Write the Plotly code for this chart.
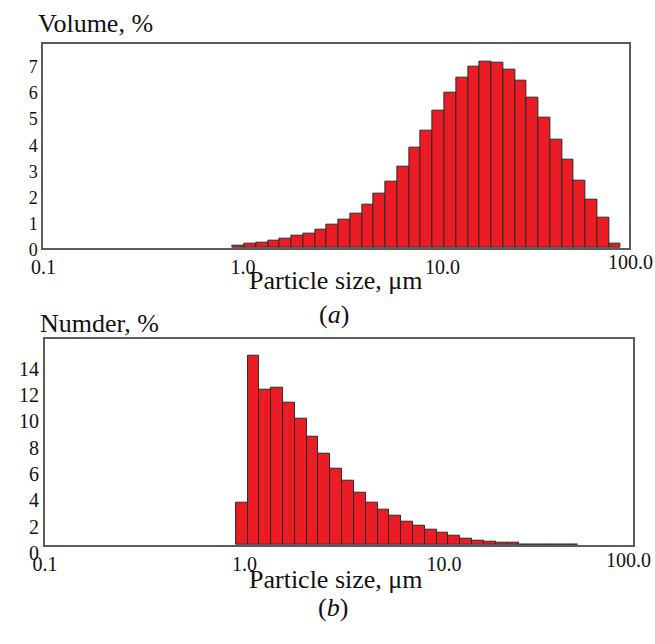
import numpy as np
import plotly.graph_objects as go

# ---------------- data ----------------
size_tick_values = [0.1, 1.0, 10.0]
size_tick_labels = ["0.1", "1.0", "10.0"]
size_last_label = "100.0"

# (a) volume distribution: bin edges in micrometres and volume %
volume_bin_edges_um = [0.889, 1.018, 1.166, 1.336, 1.530, 1.752, 2.007, 2.299,
                       2.633, 3.016, 3.454, 3.956, 4.532, 5.190, 5.944, 6.808,
                       7.798, 8.931, 10.23, 11.72, 13.42, 15.37, 17.61, 20.16,
                       23.10, 26.45, 30.29, 34.70, 39.73, 45.51, 52.13, 59.70,
                       68.39, 78.33]
volume_pct = [0.09, 0.18, 0.22, 0.27, 0.34, 0.46, 0.56, 0.71, 0.89, 1.08,
              1.33, 1.67, 2.07, 2.55, 3.11, 3.82, 4.49, 5.23, 5.95, 6.52,
              6.93, 7.11, 7.07, 6.82, 6.39, 5.73, 4.99, 4.14, 3.36, 2.58,
              1.85, 1.16, 0.17]

# (b) number distribution: bin edges in micrometres and number %
number_bin_edges_um = [0.9045, 1.036, 1.188, 1.361, 1.560, 1.788, 2.049, 2.348,
                       2.691, 3.085, 3.535, 4.051, 4.643, 5.321, 6.098, 6.989,
                       8.009, 9.178, 10.52, 12.05, 13.81, 15.83, 18.15, 20.79,
                       23.83, 27.31, 31.30, 35.86, 41.10, 47.11]
number_pct = [3.24, 14.39, 11.79, 11.98, 10.81, 9.58, 8.24, 6.93, 5.78, 4.87,
              3.96, 3.21, 2.72, 2.22, 1.81, 1.48, 1.15, 0.92, 0.74, 0.50,
              0.33, 0.25, 0.18, 0.15, 0.07, 0.07, 0.06, 0.06, 0.05]

volume_y_ticks = [0, 1, 2, 3, 4, 5, 6, 7]
number_y_ticks = [0, 2, 4, 6, 8, 10, 12, 14]

# ---------------- styling ----------------
W, H = 655, 644
FONT = "Liberation Serif"
BAR_FILL = "#ec1c24"
BAR_LINE = "#2a2a2a"
FRAME = "#5c5c5c"


def px_x(p):
    return p / W


def px_y(p):
    return 1 - p / H


def bars(edges, values, xa, ya):
    le = np.log10(np.array(edges, dtype=float))
    centers = (le[:-1] + le[1:]) / 2
    widths = le[1:] - le[:-1]
    return go.Bar(x=centers, y=values, width=widths, xaxis=xa, yaxis=ya,
                  marker=dict(color=BAR_FILL, line=dict(color=BAR_LINE, width=1)),
                  showlegend=False, hoverinfo="skip")


fig = go.Figure()
fig.add_trace(bars(volume_bin_edges_um, volume_pct, "x", "y"))
fig.add_trace(bars(number_bin_edges_um, number_pct, "x2", "y2"))

xt = [float(np.log10(v)) for v in size_tick_values]
axis_common = dict(showline=True, linecolor=FRAME, linewidth=2, mirror=True,
                   showgrid=False, zeroline=False, ticks="",
                   tickfont=dict(family=FONT, size=20, color="#111"))

fig.update_layout(
    width=W, height=H, margin=dict(l=0, r=0, t=0, b=0), autosize=False,
    paper_bgcolor="white", plot_bgcolor="white", bargap=0,
    xaxis=dict(domain=[px_x(31), px_x(628)], range=[-1.0, 1.933],
               tickvals=xt, ticktext=size_tick_labels, anchor="y", **axis_common),
    yaxis=dict(domain=[px_y(255.5), px_y(45)], range=[0, 7.81],
               tickvals=volume_y_ticks, anchor="x", ticklabelshift=2,
               **{**axis_common, "tickfont": dict(family=FONT, size=18, color="#111")}),
    xaxis2=dict(domain=[px_x(32.7), px_x(632.7)], range=[-1.0, 1.948],
                tickvals=xt, ticktext=size_tick_labels, anchor="y2", **axis_common),
    yaxis2=dict(domain=[px_y(561.7), px_y(349)], range=[0, 15.68],
                tickvals=number_y_ticks, anchor="x2", ticklabelshift=8,
                **axis_common),
)


def ann(text, x, y, size=26, xanchor="center"):
    fig.add_annotation(text=text, x=px_x(x), y=px_y(y), xref="paper", yref="paper",
                       xanchor=xanchor, yanchor="middle", showarrow=False,
                       font=dict(family=FONT, size=size, color="#111"))

ann("Volume, %", 23, 24, xanchor="left")
ann("Numder, %", 25, 333, xanchor="left")
ann("Particle size, μm", 330, 289.5)
ann("(<i>a</i>)", 328, 324)
ann("Particle size, μm", 330, 597)
ann("(<i>b</i>)", 326, 625.5)
ann(size_last_label, 629.7, 270, size=20)
ann(size_last_label, 627.5, 577.5, size=20)

fig.write_html("out.html")
